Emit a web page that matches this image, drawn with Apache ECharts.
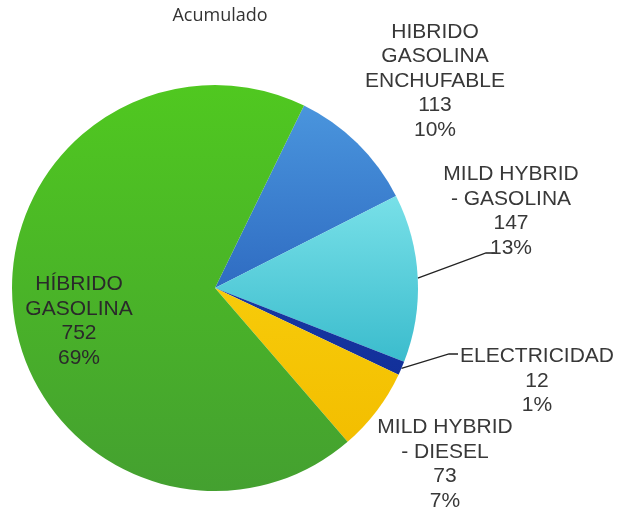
<!DOCTYPE html>
<html>
<head>
<meta charset="utf-8">
<script src="https://cdn.jsdelivr.net/npm/echarts@6/dist/echarts.min.js"></script>
<style>
html, body { margin: 0; padding: 0; background: #fff; }
#chart { width: 618px; height: 514px; }
</style>
</head>
<body>
<div id="chart"></div>
<script>
// datos del gráfico
const names = ['HIBRIDO\nGASOLINA\nENCHUFABLE', 'MILD HYBRID\n- GASOLINA', 'ELECTRICIDAD', 'MILD HYBRID\n- DIESEL', 'HÍBRIDO\nGASOLINA']
const values = [113, 147, 12, 73, 752]
// colores (arriba -> abajo)
const colorTop = ['#4a95dd', '#78e0e8', '#1838a2', '#f7cb0a', '#50c820']
const colorBottom = ['#2f6cc2', '#3bbccd', '#12309a', '#f3be00', '#44a030']
// posición de etiquetas [x, y]
const labelPos = [[435, 81], [511, 211], [537, 381], [445, 464], [79, 321]]
// final de la línea guía, relativo a la etiqueta (null = sin línea)
const lineEnd = [null, [-16, 42], [-79, -27], null, null]

const total = values.reduce((a, b) => a + b, 0)

const chart = echarts.init(document.getElementById('chart'))
const option = {
	animation: false,
	title: {
		text: 'Acumulado',
		left: 215,
		top: 2,
		textAlign: 'center',
		textStyle: {
			fontFamily: 'Open Sans',
			fontSize: 18,
			fontWeight: 'normal',
			color: '#333',
		},
	},
	series: [
		{
			type: 'pie',
			center: [215, 288],
			radius: 203,
			startAngle: 64,
			clockwise: true,
			avoidLabelOverlap: false,
			label: {
				position: 'outside',
				fontFamily: 'Liberation Sans',
				fontSize: 21,
				lineHeight: 24.5,
				color: '#383838',
				formatter: (p) => `${p.name}\n${p.value}\n${Math.round((p.value / total) * 100)}%`,
			},
			labelLine: {
				length: 20,
				length2: 10,
				lineStyle: { color: '#222', width: 1.3 },
			},
			labelLayout: (params) => {
				const i = params.dataIndex
				const opt = {
					x: labelPos[i][0],
					y: labelPos[i][1],
					align: 'center',
					verticalAlign: 'middle',
				}
				if (lineEnd[i] && params.labelLinePoints) {
					const p0 = params.labelLinePoints[0]
					const ex = labelPos[i][0] + lineEnd[i][0]
					const ey = labelPos[i][1] + lineEnd[i][1]
					opt.labelLinePoints = [p0, [ex - 9, ey], [ex, ey]]
				}
				return opt
			},
			data: values.map((v, i) => ({
				name: names[i],
				value: v,
				itemStyle: {
					color: new echarts.graphic.LinearGradient(0, 0, 0, 1, [
						{ offset: 0, color: colorTop[i] },
						{ offset: 1, color: colorBottom[i] },
					]),
				},
				label: i === 4 ? { position: 'inside', color: '#2a2a2a' } : {},
				labelLine: { show: lineEnd[i] !== null },
			})),
		},
	],
}
chart.setOption(option)
</script>
</body>
</html>
